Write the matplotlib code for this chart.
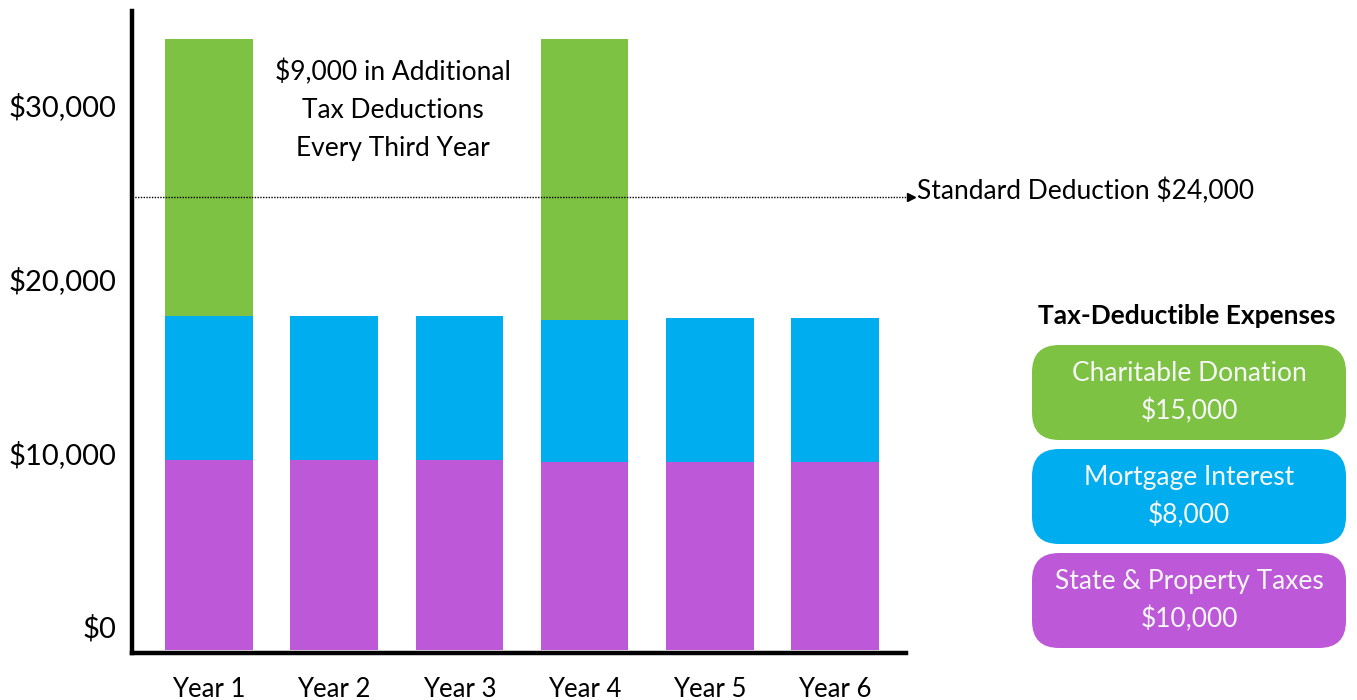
import numpy as np
import matplotlib
matplotlib.use("Agg")
import matplotlib.pyplot as plt
import matplotlib.transforms as mtransforms
from matplotlib.patches import FancyBboxPatch

plt.rcParams["font.family"] = ["Lato", "DejaVu Sans"]

# ── Data ──────────────────────────────────────────────────────────────────────
years      = ["Year 1", "Year 2", "Year 3", "Year 4", "Year 5", "Year 6"]
state_tax  = [10250, 10250, 10250, 10150, 10150, 10150]
mortgage   = [7800, 7800, 7800, 7700, 7800, 7800]
charity    = [14950, 0, 0, 15150, 0, 0]
std_line   = 24500          # where the dotted line is drawn in the original
std_label  = "Standard Deduction $24,000"

# tick labels sit where the original infographic put them
ytick_pos    = [1300, 10700, 20100, 29500]
ytick_labels = ["$0", "$10,000", "$20,000", "$30,000"]

legend_items = [
    ("Charitable Donation", "$15,000"),
    ("Mortgage Interest", "$8,000"),
    ("State & Property Taxes", "$10,000"),
]

GREEN  = "#7DC242"
BLUE   = "#00AEEF"
PURPLE = "#BD59D8"

# ── Figure ────────────────────────────────────────────────────────────────────
fig = plt.figure(figsize=(13.57, 7.0), dpi=100)
ax = fig.add_axes([132 / 1357, 47 / 700, (906 - 132) / 1357, (653 - 11) / 700])

x = np.arange(len(years))
w = 0.70
ax.bar(x, state_tax, w, color=PURPLE, zorder=2)
ax.bar(x, mortgage, w, bottom=state_tax, color=BLUE, zorder=2)
bottom2 = np.array(state_tax) + np.array(mortgage)
ax.bar(x, charity, w, bottom=bottom2, color=GREEN, zorder=2)

ax.set_xlim(-0.615, 5.567)
ax.set_ylim(-160, 34540)

for s in ["top", "right"]:
    ax.spines[s].set_visible(False)
for s in ["left", "bottom"]:
    ax.spines[s].set_linewidth(3.2)
    ax.spines[s].set_color("black")
    ax.spines[s].set_capstyle("projecting")

ax.set_xticks(x)
ax.set_xticklabels(years, fontsize=18.5)
ax.set_yticks(ytick_pos)
ax.set_yticklabels(ytick_labels, fontsize=21)
ax.tick_params(axis="x", length=0, pad=17)
ax.tick_params(axis="y", length=0, pad=11)

# standard deduction line
trans = mtransforms.blended_transform_factory(ax.transAxes, ax.transData)
ax.plot([0, 1.003], [std_line, std_line], transform=trans,
        color="black", lw=1, ls=(0, (1, 1)), clip_on=False, zorder=3)
ax.plot([1.006], [std_line], transform=trans, marker=">", ms=6,
        color="black", clip_on=False, zorder=3)
ax.text(917 / 1357, 1 - 191 / 700, std_label,
        transform=fig.transFigure, fontsize=19, va="center", ha="left")

fig.text(393 / 1357, 1 - 110 / 700,
         "$9,000 in Additional\nTax Deductions\nEvery Third Year",
         fontsize=19, ha="center", va="center", linespacing=1.65)

# ── Legend boxes ──────────────────────────────────────────────────────────────
fig.text(1187 / 1357, 1 - 316 / 700, "Tax-Deductible Expenses",
         fontsize=19, fontweight="bold", ha="center", va="center")

box_tops = [345, 449, 553]
for (name, amt), col, top in zip(legend_items, [GREEN, BLUE, PURPLE], box_tops):
    h = 95
    patch = FancyBboxPatch((1032 / 1357, 1 - (top + h) / 700),
                           314 / 1357, h / 700,
                           boxstyle="round,pad=0,rounding_size=0.02",
                           transform=fig.transFigure, facecolor=col,
                           edgecolor="none", mutation_aspect=1357 / 700)
    fig.add_artist(patch)
    fig.text(1189 / 1357, 1 - (top + h / 2) / 700, f"{name}\n{amt}",
             fontsize=19, color="#F7F7F7", ha="center", va="center",
             linespacing=1.58)

fig.savefig("out.png", dpi=100)
